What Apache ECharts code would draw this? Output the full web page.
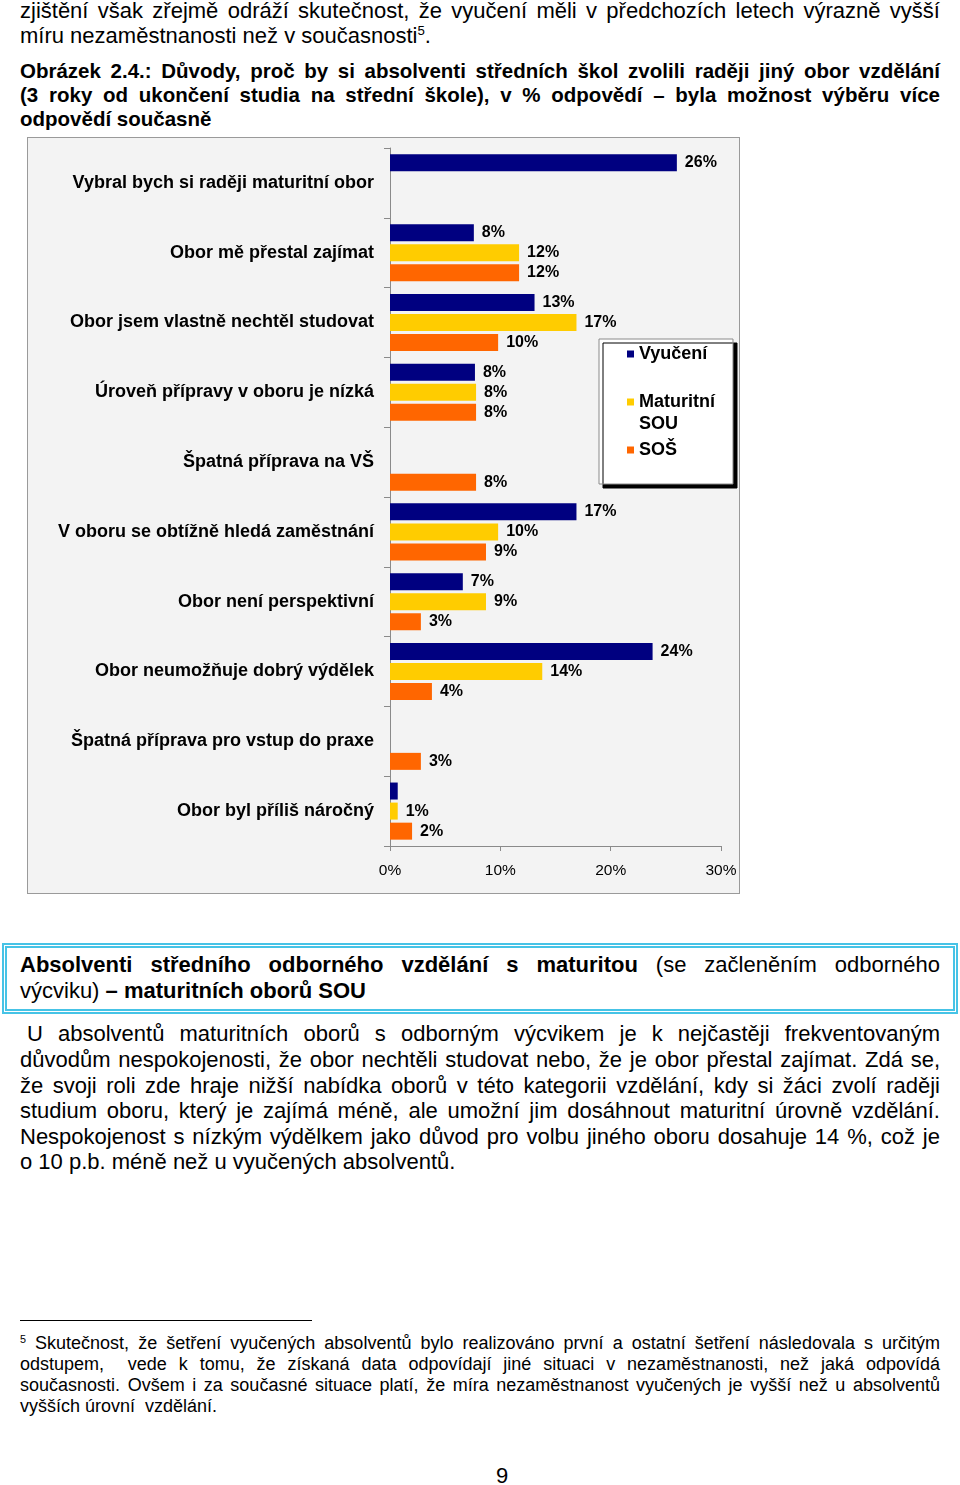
<!DOCTYPE html>
<html><head><meta charset="utf-8">
<script src="https://cdn.jsdelivr.net/npm/echarts@6/dist/echarts.min.js"></script>
<style>
html,body{margin:0;padding:0;background:#fff}
body{width:960px;height:1485px;position:relative;overflow:hidden;font-family:"Liberation Sans",Arial,sans-serif;color:#000}
.ln{position:absolute;left:20px;width:920px;white-space:nowrap;text-align:justify;text-align-last:justify;transform-origin:left center;font-size:22px;line-height:26px}
.last{text-align-last:left}
.bold{font-weight:bold}
.cap{font-size:20.5px;line-height:24px}
.fn{font-size:18px;line-height:21px}
sup{font-size:0.6em;line-height:0;vertical-align:0.6em}
#box{position:absolute;left:2px;top:943px;width:946px;height:61px;border:5px double #46c3e6;background:#fff}
#sep{position:absolute;left:20px;top:1320px;width:292px;height:1px;background:#000}
#pg{position:absolute;left:0;width:1004px;text-align:center;font-size:22px;line-height:26px;top:1463px}
#chart{position:absolute;left:27px;top:137px;width:711px;height:755px;border:1px solid #9a9a9a}
</style>
</head><body>
<div class="ln" style="top:-2px">zjištění však zřejmě odráží skutečnost, že vyučení měli v předchozích letech výrazně vyšší</div>
<div class="ln last" style="top:23px">míru nezaměstnanosti než v současnosti<sup>5</sup>.</div>

<div class="ln bold cap" style="top:59px">Obrázek 2.4.: Důvody, proč by si absolventi středních škol zvolili raději jiný obor vzdělání</div>
<div class="ln bold cap" style="top:83px">(3&nbsp;roky od ukončení studia na střední škole), v % odpovědí – byla možnost výběru více</div>
<div class="ln bold cap last" style="top:107px">odpovědí současně</div>

<div id="chart"></div>

<div id="box"></div>
<div class="ln" style="top:952px"><b>Absolventi středního odborného vzdělání s maturitou</b> (se začleněním odborného</div>
<div class="ln last" style="top:978px">výcviku) <b>– maturitních oborů SOU</b></div>

<div class="ln" style="top:1021px;left:27px;width:913px">U absolventů maturitních oborů s odborným výcvikem je k&nbsp;nejčastěji frekventovaným</div>
<div class="ln" style="top:1047px">důvodům nespokojenosti, že obor nechtěli studovat nebo, že je obor přestal zajímat. Zdá se,</div>
<div class="ln" style="top:1073px">že svoji roli zde hraje nižší nabídka oborů v této kategorii vzdělání, kdy si žáci zvolí raději</div>
<div class="ln" style="top:1098px">studium oboru, který je zajímá méně, ale umožní jim dosáhnout maturitní úrovně vzdělání.</div>
<div class="ln" style="top:1124px">Nespokojenost s nízkým výdělkem jako důvod pro volbu jiného oboru dosahuje 14 %, což je</div>
<div class="ln last" style="top:1149px">o 10 p.b. méně než u vyučených absolventů.</div>

<div id="sep"></div>
<div class="ln fn" style="top:1333px"><sup>5</sup> Skutečnost, že šetření vyučených absolventů bylo realizováno první a ostatní šetření následovala s&nbsp;určitým</div>
<div class="ln fn" style="top:1354px">odstupem, &nbsp;vede k&nbsp;tomu, že získaná data odpovídají jiné situaci v&nbsp;nezaměstnanosti, než jaká odpovídá</div>
<div class="ln fn" style="top:1375px">současnosti. Ovšem i za současné situace platí, že míra nezaměstnanost vyučených je vyšší než u absolventů</div>
<div class="ln fn last" style="top:1396px">vyšších úrovní &nbsp;vzdělání.</div>

<div id="pg">9</div>

<script>
// ---- data ----
const categories = [
  'Vybral bych si raději maturitní obor',
  'Obor mě přestal zajímat',
  'Obor jsem vlastně nechtěl studovat',
  'Úroveň přípravy v oboru je nízká',
  'Špatná příprava na VŠ',
  'V oboru se obtížně hledá zaměstnání',
  'Obor není perspektivní',
  'Obor neumožňuje dobrý výdělek',
  'Špatná příprava pro vstup do praxe',
  'Obor byl příliš náročný'
];
const seriesNames = ['Vyučení', 'Maturitní SOU', 'SOŠ'];
const vyuceni      = [26.0, 7.6, 13.1, 7.7, null, 16.9, 6.6, 23.8, null, 0.7];
const maturitniSOU = [null, 11.7, 16.9, 7.8, null, 9.8, 8.7, 13.8, null, 0.7];
const sos          = [null, 11.7, 9.8, 7.8, 7.8, 8.7, 2.8, 3.8, 2.8, 2.0];
const vyuceniHiddenLabels = [9];
const xTickValues = [0, 10, 20, 30];

// fit justified lines
document.querySelectorAll('.ln').forEach(el => {
  const w = el.clientWidth, sw = el.scrollWidth;
  if (sw > w + 1) {
    el.style.width = sw + 'px';
    el.style.transform = 'scaleX(' + (w / sw) + ')';
  }
});

const FONT = '"Liberation Sans", Arial, sans-serif';
const colors = ['#000080', '#FFCC00', '#FF6600'];
const seriesData = [
  vyuceni.map((v, i) => vyuceniHiddenLabels.includes(i) ? {value: v, label: {show: false}} : v),
  maturitniSOU,
  sos
];

const chart = echarts.init(document.getElementById('chart'), null, {renderer: 'canvas'});
chart.setOption({
  animation: false,
  backgroundColor: '#f3f3f3',
  textStyle: {fontFamily: FONT},
  grid: {left: 362, top: 10, width: 331, height: 698, outerBoundsMode: 'none'},
  xAxis: {
    type: 'value',
    min: xTickValues[0], max: xTickValues[xTickValues.length - 1], interval: 10,
    axisLine: {show: true, lineStyle: {color: '#8a8a8a', width: 1}},
    axisTick: {show: true, length: 5, lineStyle: {color: '#8a8a8a'}},
    splitLine: {show: false},
    axisLabel: {formatter: '{value}%', color: '#000', fontSize: 15.5, fontFamily: FONT, margin: 17}
  },
  yAxis: {
    type: 'category',
    inverse: true,
    data: categories,
    axisLine: {show: true, lineStyle: {color: '#8a8a8a', width: 1}},
    axisTick: {show: true, length: 6, alignWithLabel: false, lineStyle: {color: '#8a8a8a'}},
    splitLine: {show: false},
    axisLabel: {color: '#000', fontSize: 18, fontWeight: 'bold', fontFamily: FONT, margin: 16}
  },
  legend: {
    orient: 'vertical',
    left: 571, top: 201,
    data: seriesNames,
    formatter: n => n === 'Maturitní SOU' ? '\u00a0\nMaturitní\nSOU' : n,
    icon: 'rect', itemWidth: 7, itemHeight: 7, itemGap: 4,
    textStyle: {fontSize: 18, fontWeight: 'bold', color: '#000', lineHeight: 22, fontFamily: FONT},
    backgroundColor: '#fff', borderColor: '#8a8a8a', borderWidth: 1,
    padding: [4, 18, 23, 28],
    shadowColor: '#000', shadowOffsetX: 4, shadowOffsetY: 4, shadowBlur: 0
  },
  series: seriesNames.map((name, i) => ({
    name: name,
    type: 'bar',
    data: seriesData[i],
    barWidth: 17,
    barGap: '18%',
    itemStyle: {color: colors[i]},
    label: {
      show: true, position: 'right', distance: 8,
      formatter: p => Math.round(p.value) + '%',
      color: '#000', fontSize: 16, fontWeight: 'bold', fontFamily: FONT
    }
  }))
});
</script>
</body></html>
